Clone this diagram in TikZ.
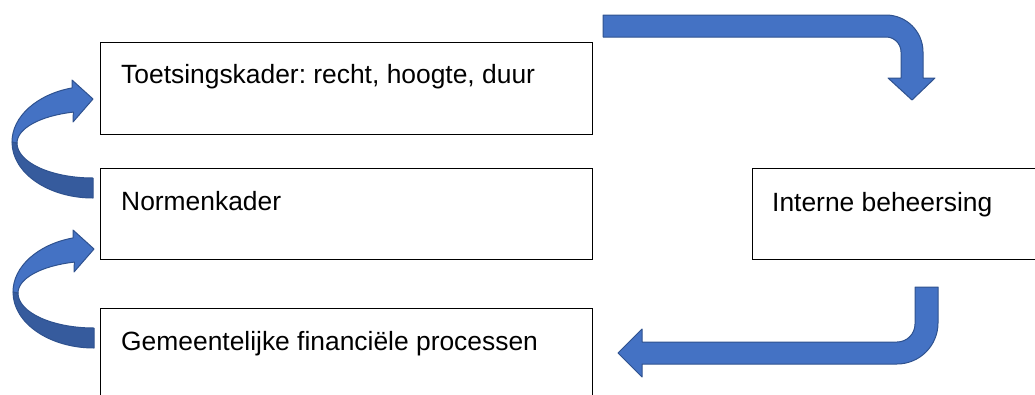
\documentclass[tikz,border=0pt]{standalone}
\usepackage{fontspec}
\setmainfont{Liberation Sans}
\usetikzlibrary{calc}
\frenchspacing
\definecolor{arrowfill}{HTML}{4472C4}
\definecolor{arrowline}{HTML}{2F528F}
\definecolor{arrowdark}{HTML}{365B9D}
\tikzset{
  box/.style={draw=black, line width=1.2pt, minimum width=492pt, minimum height=92pt, anchor=north west, inner sep=0pt},
  lbl/.style={anchor=base west, inner sep=0pt, font=\fontsize{26.4}{31}\selectfont},
  blockarrow/.style={fill=arrowfill, draw=arrowline, line width=1pt, line join=round},
  blockdark/.style={fill=arrowdark, draw=arrowline, line width=1pt, line join=round}
}
\newcommand\ribbonarrow{%
  \path[blockdark] ($(93,142)+(180:81 and 56)$) arc[start angle=180,end angle=90,x radius=81,y radius=56]
    -- ($(93,143)+(90:76 and 35)$) arc[start angle=90,end angle=180,x radius=76,y radius=35] -- cycle;
  \path[blockarrow] (72,80) -- (93,99) -- (73,122) -- ($(93,143)+(255:76 and 32)$)
    arc[start angle=255,end angle=180,x radius=76,y radius=32]
    -- ($(93,142)+(180:81 and 56)$) arc[start angle=180,end angle=255,x radius=81,y radius=56] -- cycle;
}
\begin{document}
\begin{tikzpicture}[x=1pt,y=1pt,yscale=-1]
\useasboundingbox (0,0) rectangle (1035,394);
\clip (0,0) rectangle (1035,394);
% boxes
\node[box] (b1) at (100,42) {};
\node[box, minimum height=91pt] (b2) at (100,168) {};
\node[box, minimum height=110pt] (b3) at (100,308) {};
\node[box, minimum width=300pt, minimum height=91pt] (b4) at (752,168) {};
% labels
\node[lbl] (t1) at ($(b1.north west)+(21,41)$) {Toetsingskader: recht, hoogte, duur};
\node[lbl] (t2) at ($(b2.north west)+(21,42)$) {Normenkader};
\node[lbl] (t3) at ($(b3.north west)+(21,42)$) {Gemeentelijke financiële processen};
\node[lbl] (t4) at ($(b4.north west)+(20,43)$) {Interne beheersing};
% curved arrows on the left
\begin{scope}
\ribbonarrow
\end{scope}
\begin{scope}[shift={(1,150)}]
\ribbonarrow
\end{scope}
% top bent arrow
\path[blockarrow] (603,15) -- (886,15) arc[start angle=270,end angle=360,radius=37]
  -- (923,78) -- (935,78) -- (912,100) -- (888,78) -- (901,78) -- (901,52)
  arc[start angle=0,end angle=-90,radius=15] -- (603,37) -- cycle;
% bottom bent arrow
\path[blockarrow] (915,287) -- (938,287) -- (938,323) arc[start angle=0,end angle=90,radius=41]
  -- (642,364) -- (642,377) -- (618,353) -- (642,329) -- (642,342) -- (897,342)
  arc[start angle=90,end angle=0,radius=18] -- cycle;
\end{tikzpicture}
\end{document}
